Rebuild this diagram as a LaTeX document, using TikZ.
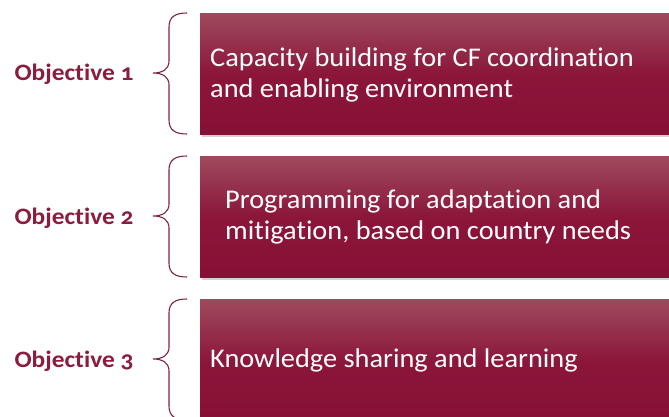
\documentclass[tikz,border=0pt]{standalone}
\usepackage{fontspec}
\setmainfont{Carlito}
\newfontfamily\boxfont[FakeStretch=1.05,Ligatures=NoCommon]{Carlito}
\newfontfamily\labfont[Numbers=OldStyle,FakeStretch=1.08,Ligatures=NoCommon]{Carlito}
\usetikzlibrary{shadows}
\definecolor{wine}{HTML}{880F35}
\definecolor{winetop}{HTML}{9F4A5E}
\definecolor{labcol}{HTML}{8A1D3D}
\definecolor{bracecol}{HTML}{7A2646}
\tikzset{
  objbox/.style={rectangle, minimum width=480pt, anchor=north west, inner sep=0pt,
    top color=winetop, bottom color=wine, middle color=wine!88!winetop,
    drop shadow={shadow xshift=1.5pt, shadow yshift=-2.5pt, opacity=0.35}},
  boxtext/.style={anchor=base west, text=white, font=\boxfont\fontsize{27}{31}\selectfont, align=left, inner sep=0pt},
  objlab/.style={anchor=base, text=labcol, font=\labfont\bfseries\fontsize{23.5}{26}\selectfont, inner sep=0pt},
  bracepath/.style={draw=bracecol, line width=1.1pt}
}
\begin{document}
\begin{tikzpicture}[x=1pt,y=-1pt]
\useasboundingbox (0,0) rectangle (669,417);
\clip (0,0) rectangle (669,417);
\fill[white] (0,0) rectangle (669,417);
% boxes
\node[objbox, minimum height=121pt] (b1) at (200,13) {};
\node[objbox, minimum height=121pt] (b2) at (200,156) {};
\node[objbox, minimum height=125pt] (b3) at (200,299) {};
% texts (base anchor = last line)
\node[boxtext] (t1) at (210,98) {Capacity building for CF coordination\\and enabling environment};
\node[boxtext] (t2) at (225,239) {Programming for adaptation and\\mitigation, based on country needs};
\node[boxtext] (t3) at (210,367) {Knowledge sharing and learning};
% labels
\node[objlab] (o1) at (74,81) {Objective 1};
\node[objlab] (o2) at (74,224) {Objective 2};
\node[objlab] (o3) at (74,367) {Objective 3};
% braces
\foreach \t/\m/\b in {13/73/134, 156/216/277, 299/359/420}{
  \draw[bracepath] (187,\t) .. controls (175,\t) and (169,\t+4) .. (169,\t+14)
    -- (169,\m-12) .. controls (169,\m-4) and (163,\m) .. (153,\m)
    .. controls (163,\m) and (169,\m+4) .. (169,\m+12)
    -- (169,\b-14) .. controls (169,\b-4) and (175,\b) .. (187,\b);
}
\end{tikzpicture}
\end{document}
